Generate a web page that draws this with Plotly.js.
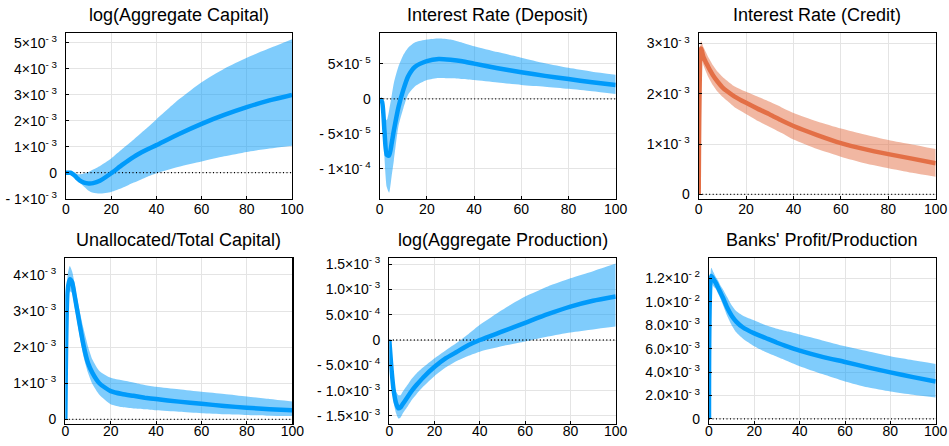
<!DOCTYPE html>
<html>
<head>
<meta charset="utf-8">
<script src="https://cdn.plot.ly/plotly-3.0.1.min.js"></script>
<style>html,body{margin:0;padding:0;background:#fff;}#chart{width:949px;height:446px;}</style>
</head>
<body>
<div id="chart"></div>
<script>
// Horizon (periods)
const periods = [0,1,2,3,4,5,6,8,10,12,15,20,25,30,35,40,50,60,70,80,90,100];

// Panel titles
const titles = ["log(Aggregate Capital)", "Interest Rate (Deposit)", "Interest Rate (Credit)",
                "Unallocated/Total Capital)", "log(Aggregate Production)", "Banks' Profit/Production"];

// log(Aggregate Capital), units of 1e-3
const capitalMid   = [0,0,0,-0.05,-0.12,-0.22,-0.29,-0.38,-0.41,-0.40,-0.31,-0.02,0.31,0.61,0.85,1.06,1.49,1.88,2.22,2.52,2.78,2.99];
const capitalUpper = [0,0,0,-0.02,-0.05,-0.06,-0.06,-0.03,0.03,0.12,0.26,0.55,0.92,1.28,1.66,2.05,2.82,3.48,4.00,4.42,4.78,5.13];
const capitalLower = [0,0,0,-0.08,-0.18,-0.28,-0.38,-0.54,-0.69,-0.77,-0.80,-0.74,-0.58,-0.38,-0.19,-0.02,0.23,0.43,0.63,0.80,0.93,1.04];

// Interest rate (deposit), units of 1e-5
const depositMid   = [0,-0.4,-4.5,-8.0,-8.1,-6.5,-4.5,-1.1,1.3,3.2,4.6,5.4,5.7,5.6,5.4,5.05,4.4,3.82,3.3,2.84,2.4,2.0];
const depositUpper = [0,-0.3,-2.8,-3.0,-1.6,0.3,2.3,4.7,6.3,7.3,8.1,8.5,8.65,8.5,8.05,7.55,6.7,5.9,5.1,4.45,3.9,3.46];
const depositLower = [0,-1.5,-8.3,-12.6,-13.4,-11.2,-8.8,-3.8,-1.35,0.6,1.8,2.7,3.0,2.95,2.85,2.7,2.35,2.0,1.75,1.45,1.1,0.7];

// Interest rate (credit), units of 1e-3
const creditMid   = [0,2.90,2.73,2.63,2.54,2.45,2.37,2.24,2.13,2.05,1.95,1.82,1.70,1.59,1.47,1.36,1.18,1.02,0.90,0.80,0.71,0.62];
const creditUpper = [0,3.05,2.93,2.83,2.73,2.65,2.57,2.44,2.34,2.26,2.15,2.04,1.94,1.84,1.73,1.62,1.45,1.31,1.19,1.08,0.99,0.90];
const creditLower = [0,2.75,2.57,2.45,2.34,2.25,2.17,2.04,1.94,1.86,1.74,1.60,1.46,1.34,1.22,1.09,0.90,0.75,0.62,0.52,0.43,0.35];

// Unallocated/Total capital, units of 1e-3
const unallocMid   = [0,3.56,3.88,3.80,3.47,3.11,2.75,2.06,1.56,1.28,1.00,0.78,0.70,0.65,0.60,0.56,0.49,0.43,0.37,0.32,0.28,0.25];
const unallocUpper = [0,4.00,4.25,4.10,3.80,3.43,3.10,2.52,2.02,1.65,1.34,1.15,1.08,1.02,0.95,0.90,0.83,0.76,0.70,0.63,0.56,0.49];
const unallocLower = [0,3.20,3.55,3.50,3.15,2.79,2.43,1.75,1.29,0.97,0.68,0.42,0.34,0.30,0.28,0.25,0.21,0.17,0.14,0.12,0.10,0.09];

// log(Aggregate Production), units of 1e-3
const prodMid   = [0,-0.59,-1.02,-1.25,-1.35,-1.33,-1.26,-1.13,-1.00,-0.89,-0.74,-0.53,-0.36,-0.23,-0.10,0.00,0.17,0.34,0.51,0.66,0.775,0.86];
const prodUpper = [0,-0.45,-0.86,-1.02,-1.09,-1.09,-1.02,-0.89,-0.76,-0.66,-0.54,-0.36,-0.20,-0.05,0.12,0.30,0.60,0.86,1.06,1.22,1.36,1.51];
const prodLower = [0,-0.72,-1.25,-1.45,-1.55,-1.53,-1.45,-1.32,-1.18,-1.07,-0.92,-0.71,-0.54,-0.41,-0.31,-0.23,-0.12,-0.03,0.07,0.15,0.21,0.265];

// Banks' profit/production, units of 1e-3
const profitMid   = [0,12.2,11.9,11.6,11.2,10.8,10.4,9.5,8.8,8.3,7.8,7.3,6.9,6.5,6.15,5.83,5.3,4.86,4.4,3.97,3.57,3.2];
const profitUpper = [0,12.9,12.5,12.1,11.8,11.4,11.1,10.4,9.7,9.2,8.8,8.4,8.0,7.7,7.45,7.2,6.7,6.2,5.77,5.34,5.0,4.69];
const profitLower = [0,11.6,11.3,11.1,10.7,10.3,9.8,8.8,8.0,7.4,6.85,6.2,5.7,5.3,4.9,4.5,3.83,3.2,2.7,2.34,2.06,1.83];

// Tick values and labels
const xTicks = [0,20,40,60,80,100];
const capitalTicks = [-1e-3,0,1e-3,2e-3,3e-3,4e-3,5e-3];
const capitalTickText = ["- 1×10<sup>- 3</sup>","0","1×10<sup>- 3</sup>","2×10<sup>- 3</sup>","3×10<sup>- 3</sup>","4×10<sup>- 3</sup>","5×10<sup>- 3</sup>"];
const depositTicks = [-1e-4,-5e-5,0,5e-5];
const depositTickText = ["- 1×10<sup>- 4</sup>","- 5×10<sup>- 5</sup>","0","5×10<sup>- 5</sup>"];
const creditTicks = [0,1e-3,2e-3,3e-3];
const creditTickText = ["0","1×10<sup>- 3</sup>","2×10<sup>- 3</sup>","3×10<sup>- 3</sup>"];
const unallocTicks = [0,1e-3,2e-3,3e-3,4e-3];
const unallocTickText = ["0","1×10<sup>- 3</sup>","2×10<sup>- 3</sup>","3×10<sup>- 3</sup>","4×10<sup>- 3</sup>"];
const prodTicks = [-1.5e-3,-1e-3,-5e-4,0,5e-4,1e-3,1.5e-3];
const prodTickText = ["- 1.5×10<sup>- 3</sup>","- 1.0×10<sup>- 3</sup>","- 5.0×10<sup>- 4</sup>","0","5.0×10<sup>- 4</sup>","1.0×10<sup>- 3</sup>","1.5×10<sup>- 3</sup>"];
const profitTicks = [0,2e-3,4e-3,6e-3,8e-3,1e-2,1.2e-2];
const profitTickText = ["0","2.0×10<sup>- 3</sup>","4.0×10<sup>- 3</sup>","6.0×10<sup>- 3</sup>","8.0×10<sup>- 3</sup>","1.0×10<sup>- 2</sup>","1.2×10<sup>- 2</sup>"];

const W = 949, H = 446;
const BLUE = "rgb(0,154,250)", BLUEFILL = "rgba(0,154,250,0.5)";
const RED = "rgb(227,111,70)", REDFILL = "rgba(227,111,70,0.5)";
const FONT = "Liberation Sans, Arial, sans-serif";

const panels = [
  {mid: capitalMid, up: capitalUpper, lo: capitalLower, unit: 1e-3, ticks: capitalTicks, text: capitalTickText,
   range: [-1.01e-3, 5.37e-3], px: [66, 292], py: [33, 199], c: BLUE, f: BLUEFILL},
  {mid: depositMid, up: depositUpper, lo: depositLower, unit: 1e-5, ticks: depositTicks, text: depositTickText,
   range: [-1.43e-4, 9.43e-5], px: [379.7, 615.7], py: [33, 199], c: BLUE, f: BLUEFILL},
  {mid: creditMid, up: creditUpper, lo: creditLower, unit: 1e-3, ticks: creditTicks, text: creditTickText,
   range: [-0.093e-3, 3.21e-3], px: [698.7, 935.7], py: [33, 199], c: RED, f: REDFILL},
  {mid: unallocMid, up: unallocUpper, lo: unallocLower, unit: 1e-3, ticks: unallocTicks, text: unallocTickText,
   range: [-0.13e-3, 4.46e-3], px: [65.3, 292.3], py: [258.3, 424], c: BLUE, f: BLUEFILL},
  {mid: prodMid, up: prodUpper, lo: prodLower, unit: 1e-3, ticks: prodTicks, text: prodTickText,
   range: [-1.66e-3, 1.615e-3], px: [389.3, 615.7], py: [258.3, 424], c: BLUE, f: BLUEFILL},
  {mid: profitMid, up: profitUpper, lo: profitLower, unit: 1e-3, ticks: profitTicks, text: profitTickText,
   range: [-0.43e-3, 13.7e-3], px: [709, 935.7], py: [258.3, 424], c: BLUE, f: BLUEFILL}
];

const traces = [];
const layout = {
  width: W, height: H, margin: {l: 0, r: 0, t: 0, b: 0},
  paper_bgcolor: "#fff", plot_bgcolor: "#fff", showlegend: false,
  font: {family: FONT, color: "#000"},
  annotations: []
};

panels.forEach((p, i) => {
  const n = i + 1;
  const xa = n === 1 ? "x" : "x" + n, ya = n === 1 ? "y" : "y" + n;
  const scale = v => v.map(a => a * p.unit);
  const lineShape = {shape: "spline", smoothing: 0.6};
  traces.push({x: periods, y: scale(p.lo), xaxis: xa, yaxis: ya, mode: "lines",
               line: Object.assign({width: 0, color: p.f}, lineShape), hoverinfo: "skip"});
  traces.push({x: periods, y: scale(p.up), xaxis: xa, yaxis: ya, mode: "lines", fill: "tonexty",
               fillcolor: p.f, line: Object.assign({width: 0, color: p.f}, lineShape), hoverinfo: "skip"});
  traces.push({x: [periods[0], periods[periods.length - 1]], y: [0, 0], xaxis: xa, yaxis: ya, mode: "lines",
               line: {color: "#000", width: 1.3, dash: "1px,2.5px"}, hoverinfo: "skip"});
  traces.push({x: periods, y: scale(p.mid), xaxis: xa, yaxis: ya, mode: "lines",
               line: Object.assign({width: 4.5, color: p.c}, lineShape)});

  const axCommon = {
    showgrid: true, gridcolor: "#e4e4e4", gridwidth: 1,
    showline: true, mirror: true, linecolor: "#000", linewidth: 1.2,
    ticks: "inside", ticklen: 3, tickcolor: "#000", tickwidth: 1,
    zeroline: false, tickfont: {family: FONT, size: 14, color: "#000"}
  };
  layout["xaxis" + (n === 1 ? "" : n)] = Object.assign({}, axCommon, {
    domain: [p.px[0] / W, p.px[1] / W], range: [0, 100], tickvals: xTicks,
    anchor: ya, ticklabelstandoff: i < 3 ? -3 : -6
  });
  layout["yaxis" + (n === 1 ? "" : n)] = Object.assign({}, axCommon, {
    domain: [1 - p.py[1] / H, 1 - p.py[0] / H], range: p.range,
    tickvals: p.ticks, ticktext: p.text, anchor: xa, ticklabelstandoff: 5
  });
  layout.annotations.push({
    text: titles[i], xref: "paper", yref: "paper",
    x: (p.px[0] + p.px[1]) / 2 / W, y: 1 - (i < 3 ? 15 : 240) / H,
    xanchor: "center", yanchor: "middle", showarrow: false,
    font: {family: FONT, size: 18, color: "#000"}
  });
});

Plotly.newPlot("chart", traces, layout, {staticPlot: true, displayModeBar: false});
</script>
</body>
</html>
